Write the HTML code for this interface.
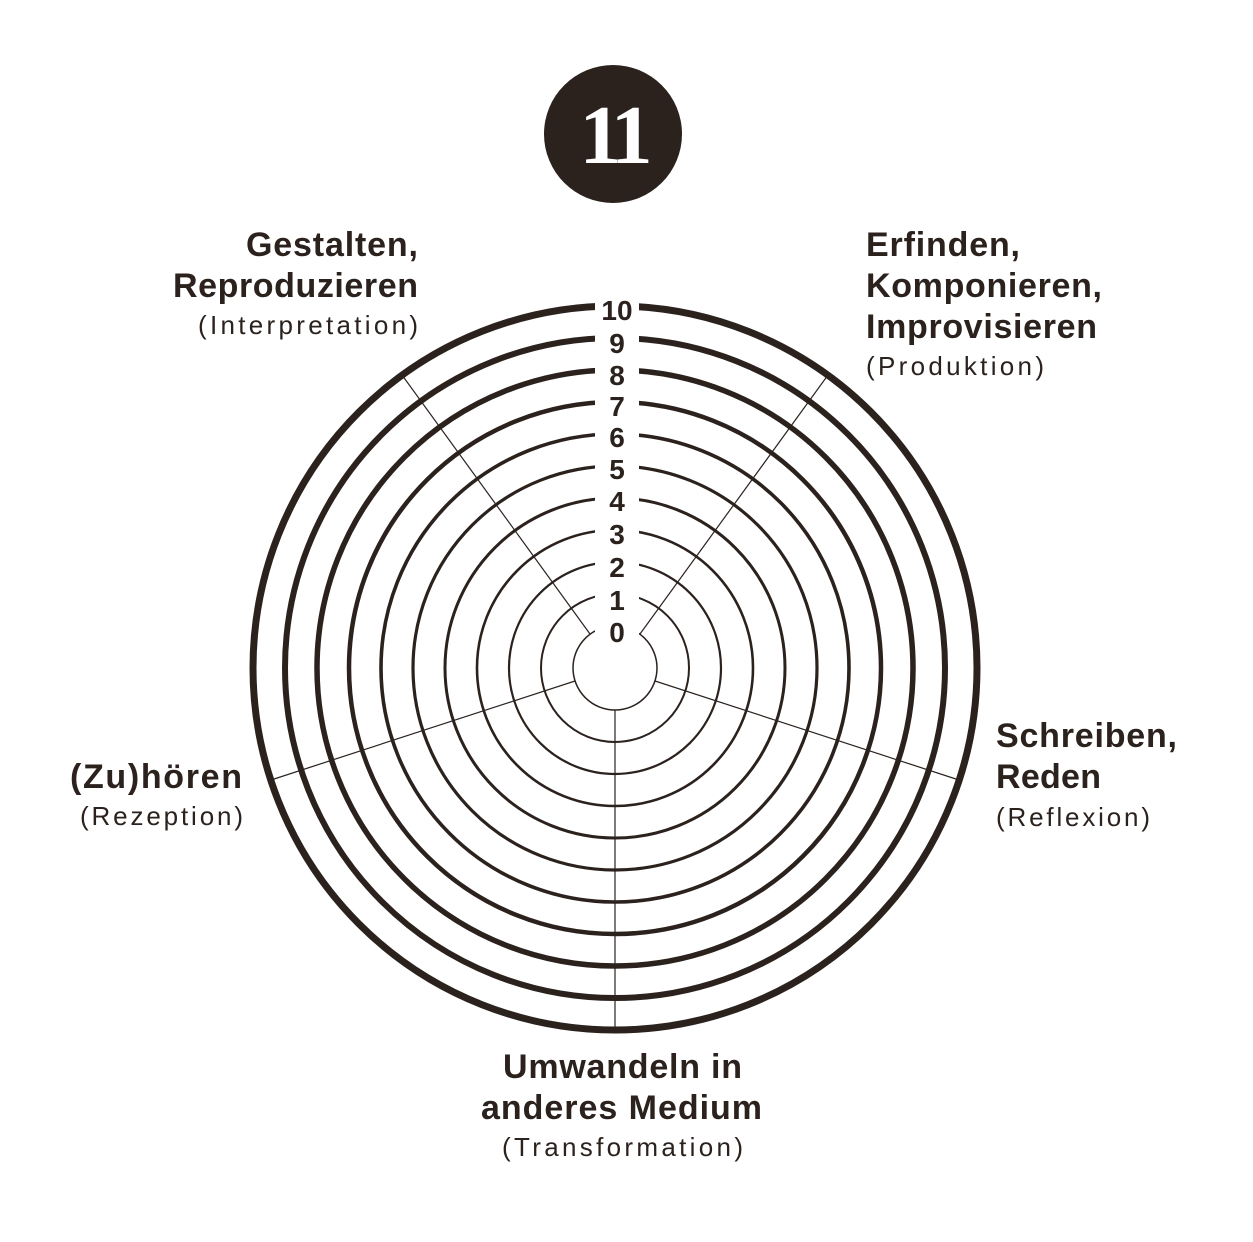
<!DOCTYPE html>
<html><head><meta charset="utf-8"><style>
html,body{margin:0;padding:0;background:#fff;}
svg{display:block;}
.b{font-family:"Liberation Sans",sans-serif;font-weight:bold;font-size:34px;fill:#2b221e;}
.s{font-family:"Liberation Sans",sans-serif;font-size:26px;fill:#2b221e;}
.n{font-family:"Liberation Sans",sans-serif;font-weight:bold;font-size:28px;fill:#2b221e;}
</style></head><body>
<svg width="1253" height="1242" viewBox="0 0 1253 1242" xmlns="http://www.w3.org/2000/svg">
<rect width="1253" height="1242" fill="#fff"/>
<circle cx="613" cy="134" r="69" fill="#2b221e"/>
<text x="613" y="163" text-anchor="middle" font-family="Liberation Serif,serif" font-weight="bold" font-size="84" fill="#fff" letter-spacing="-6">11</text>
<g stroke="#2b221e" stroke-width="1.2">
<line x1="615" y1="710" x2="615" y2="1030"/>
<line x1="655" y1="681" x2="959" y2="780"/>
<line x1="575" y1="681" x2="271" y2="780"/>
<line x1="640" y1="634" x2="828" y2="375"/>
<line x1="590" y1="634" x2="402" y2="375"/>
</g>
<g fill="none" stroke="#2b221e">
<circle cx="615" cy="668" r="42" stroke-width="1.5"/>
<circle cx="615" cy="668" r="74" stroke-width="2"/>
<circle cx="615" cy="668" r="106" stroke-width="2.2"/>
<circle cx="615" cy="668" r="138" stroke-width="2.6"/>
<circle cx="615" cy="668" r="170" stroke-width="3"/>
<circle cx="615" cy="668" r="202" stroke-width="3.2"/>
<circle cx="615" cy="668" r="234" stroke-width="3.6"/>
<circle cx="615" cy="668" r="266" stroke-width="4.5"/>
<circle cx="615" cy="668" r="298" stroke-width="5.5"/>
<circle cx="615" cy="668" r="330" stroke-width="6"/>
<circle cx="615" cy="668" r="362" stroke-width="7"/>
</g>
<rect x="595" y="295" width="44" height="345" fill="#fff"/>
<g class="n" text-anchor="middle">
<text x="617" y="320">10</text>
<text x="617" y="353">9</text>
<text x="617" y="385">8</text>
<text x="617" y="416">7</text>
<text x="617" y="447">6</text>
<text x="617" y="479">5</text>
<text x="617" y="511">4</text>
<text x="617" y="544">3</text>
<text x="617" y="577">2</text>
<text x="617" y="610">1</text>
<text x="617" y="642">0</text>
</g>
<text class="b" x="246" y="256" textLength="172">Gestalten,</text>
<text class="b" x="173" y="297" textLength="245">Reproduzieren</text>
<text class="s" x="198" y="334" textLength="220">(Interpretation)</text>
<text class="b" x="866" y="256" textLength="154">Erfinden,</text>
<text class="b" x="866" y="297" textLength="236">Komponieren,</text>
<text class="b" x="866" y="338" textLength="231">Improvisieren</text>
<text class="s" x="866" y="375" textLength="178">(Produktion)</text>
<text class="b" x="996" y="747" textLength="181">Schreiben,</text>
<text class="b" x="996" y="788" textLength="105">Reden</text>
<text class="s" x="996" y="826" textLength="154">(Reflexion)</text>
<text class="b" x="70" y="788" textLength="172">(Zu)hören</text>
<text class="s" x="80" y="825" textLength="163">(Rezeption)</text>
<text class="b" x="503" y="1078" textLength="239">Umwandeln in</text>
<text class="b" x="481" y="1119" textLength="281">anderes Medium</text>
<text class="s" x="502" y="1156" textLength="241">(Transformation)</text>
</svg>
</body></html>
